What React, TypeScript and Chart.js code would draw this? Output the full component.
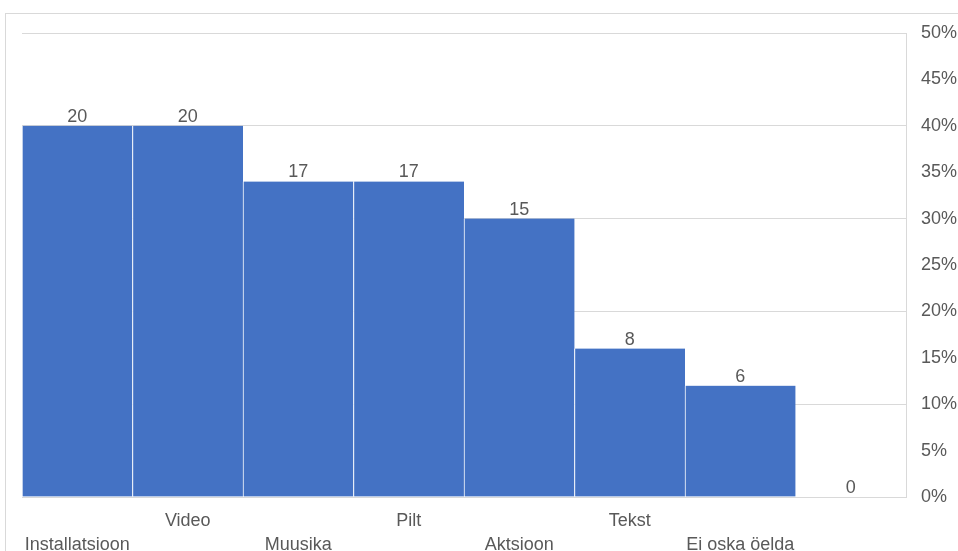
import React, { useEffect, useRef } from "react";
import { Chart, registerables } from "chart.js";

Chart.register(...registerables);

const categories = ["Installatsioon", "Video", "Muusika", "Pilt", "Aktsioon", "Tekst", "Ei oska öelda", ""];
const counts = [20, 20, 17, 17, 15, 8, 6, 0];
const respondents = 50;
const yTicks = [0, 5, 10, 15, 20, 25, 30, 35, 40, 45, 50];

const FONT = "'Liberation Sans', Arial, sans-serif";
const GREY = "#595959";

const dataLabels = {
  id: "dataLabels",
  afterDatasetsDraw(chart: any) {
    const ctx = chart.ctx;
    const meta = chart.getDatasetMeta(0);
    ctx.save();
    ctx.font = `18px ${FONT}`;
    ctx.fillStyle = GREY;
    ctx.textAlign = "center";
    ctx.textBaseline = "alphabetic";
    meta.data.forEach((el: any, i: number) => {
      ctx.fillText(String(counts[i]), el.x, el.y - 4);
    });
    ctx.restore();
  },
};

export default function App() {
  const ref = useRef<HTMLCanvasElement>(null);
  useEffect(() => {
    if (!ref.current) return;
    const chart = new Chart(ref.current, {
      type: "bar",
      data: {
        labels: categories,
        datasets: [
          {
            data: counts.map((c) => (c / respondents) * 100),
            backgroundColor: "#4472C4",
            borderColor: "#ffffff",
            borderWidth: { left: 1, right: 0, top: 0, bottom: 0 } as any,
            borderSkipped: false,
            barPercentage: 1,
            categoryPercentage: 1,
          },
        ],
      },
      options: {
        animation: false,
        responsive: false,
        maintainAspectRatio: false,
        layout: { padding: { top: 33, left: 22, right: 0, bottom: 0 } },
        plugins: { legend: { display: false }, tooltip: { enabled: false } },
        scales: {
          x: {
            grid: { display: false, drawTicks: false },
            border: { display: false },
            afterFit(scale: any) {
              scale.height = 54;
            },
            ticks: {
              autoSkip: false,
              maxRotation: 0,
              minRotation: 0,
              padding: 13,
              color: GREY,
              font: { family: FONT, size: 18, lineHeight: 1.28 },
              callback: (_v: any, i: number) => (i % 2 === 0 ? ["", categories[i]] : [categories[i], ""]),
            },
          },
          y: {
            position: "right",
            min: 0,
            max: 50,
            afterBuildTicks(scale: any) {
              scale.ticks = yTicks.map((v) => ({ value: v }));
            },
            afterFit(scale: any) {
              scale.width = 52;
            },
            grid: {
              drawTicks: false,
              color: (c: any) => (c.tick && c.tick.value % 10 === 0 ? "#d9d9d9" : "rgba(0,0,0,0)"),
              lineWidth: 1,
            },
            border: { display: true, color: "#d9d9d9" },
            ticks: {
              padding: 15,
              color: GREY,
              font: { family: FONT, size: 18 },
              callback: (v: any) => `${v}%`,
            },
          },
        },
      },
      plugins: [dataLabels],
    });
    return () => chart.destroy();
  }, []);
  return (
    <div style={{ position: "fixed", left: 0, top: 0, width: 958, height: 551, background: "#fff", overflow: "hidden" }}>
      <div
        style={{
          position: "absolute",
          left: 5,
          top: 13,
          width: 1000,
          height: 600,
          borderLeft: "1px solid #d9d9d9",
          borderTop: "1px solid #d9d9d9",
        }}
      />
      <canvas ref={ref} width={958} height={551} style={{ position: "absolute", left: 0, top: 0 }} />
    </div>
  );
}
